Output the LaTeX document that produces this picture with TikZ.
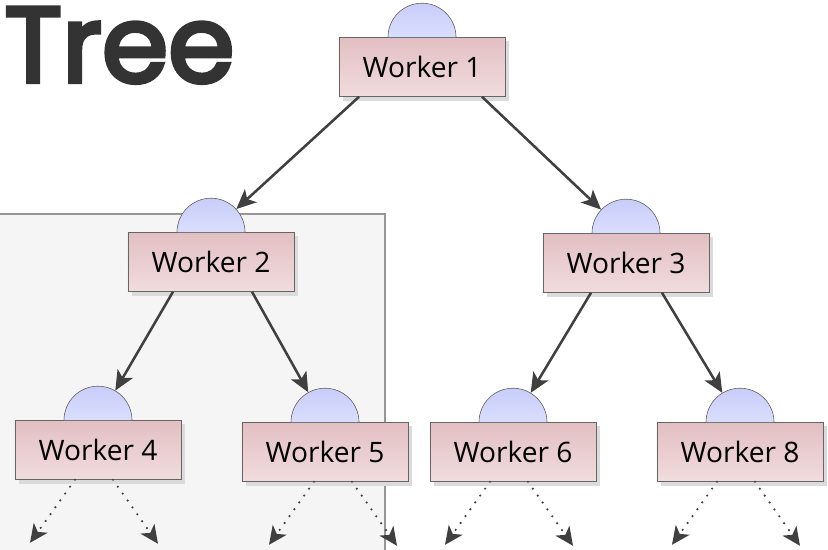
\documentclass[tikz,border=0pt]{standalone}
\usepackage{fontspec}
\setmainfont{Open Sans}
\newfontfamily\titlefont[FakeBold=4]{Poppins}
\usetikzlibrary{arrows.meta,calc,shadows}

\definecolor{boxtop}{RGB}{226,191,195}
\definecolor{boxbot}{RGB}{241,220,222}
\definecolor{captop}{RGB}{200,205,250}
\definecolor{capbot}{RGB}{218,222,253}
\definecolor{linegray}{RGB}{64,64,64}
\definecolor{panelfill}{RGB}{245,245,245}
\definecolor{panelline}{RGB}{150,150,150}
\definecolor{titlegray}{RGB}{51,51,51}

\tikzset{
    worker/.style={draw=black!60, top color=boxtop, bottom color=boxbot,
        minimum width=4.15cm, minimum height=1.475cm, inner sep=0pt,
        font=\fontsize{20}{24}\selectfont,
        drop shadow={shadow xshift=0.1cm, shadow yshift=-0.1cm, fill=black!14, opacity=1}},
    dome/.style={draw=black!65, top color=captop, bottom color=capbot},
    hook/.style={circle, minimum size=1.7cm, inner sep=0pt},
    link/.style={draw=linegray, line width=1.8pt, -{Stealth[length=14pt, width=12.5pt, inset=3.5pt]}},
    more/.style={draw=linegray, line width=1.7pt, line cap=round, dash pattern=on 0pt off 6pt,
        -{Stealth[length=13pt, width=12pt, inset=3.5pt, line cap=butt]}}
}

\begin{document}
\begin{tikzpicture}[x=0.025cm, y=-0.025cm]
    \clip (0,0) rectangle (828,550);

    % Panel
    \draw[fill=panelfill, draw=panelline, line width=0.9pt] (-10,214) rectangle (385,570);

    % Title
    \node[anchor=base west, inner sep=0pt, text=titlegray, font=\titlefont\fontsize{76}{80}\selectfont]
        (title) at (4,82) {Tree};

    % Workers
    \node[worker] (w1) at (422,67) {Worker 1};
    \node[worker] (w2) at (211,262) {Worker 2};
    \node[worker] (w3) at (626,263) {Worker 3};
    \node[worker] (w4) at (98,450) {Worker 4};
    \node[worker] (w5) at (325,452) {Worker 5};
    \node[worker] (w6) at (513,452) {Worker 6};
    \node[worker] (w8) at (740,452) {Worker 8};

    % Domes
    \foreach \w in {1,2,3,4,5,6,8} {
        \path[dome] ($(w\w.north)+(-34,0)$) arc[start angle=180, end angle=0, radius=0.85cm];
        \node[hook] (c\w) at (w\w.north) {};
    }

    % Links
    \draw[link] ($(w1.south)+(-63,0)$) -- (c2);
    \draw[link] ($(w1.south)+(60,0)$) -- (c3);
    \draw[link] ($(w2.south)+(-38,0)$) -- (c4);
    \draw[link] ($(w2.south)+(41,0)$) -- (c5);
    \draw[link] ($(w3.south)+(-35,0)$) -- (c6);
    \draw[link] ($(w3.south)+(36,0)$) -- (c8);

    % Further levels
    \foreach \w/\d in {4/0, 5/12, 6/0, 8/0} {
        \coordinate (l\w) at ($(w\w.south)+(-68+\d,63)$);
        \coordinate (r\w) at ($(w\w.south)+(60+\d,64)$);
        \draw[more] ($(w\w.south)+(-23+\d,0)$) -- (l\w);
        \draw[more] ($(w\w.south)+(15+\d,0)$) -- (r\w);
    }
\end{tikzpicture}
\end{document}
